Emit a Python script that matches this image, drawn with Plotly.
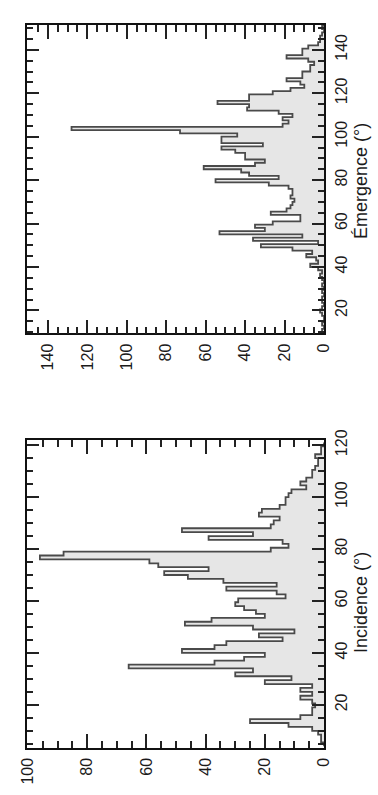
import plotly.graph_objects as go

# ---------------- data (histograms, 1.5° bins) ----------------
bin_width = 1.5

# Émergence (°) histogram, first bin starts at 10°
eme_start = 10.0
eme_counts = [1, 0, 1, 0, 0, 1, 2, 1, 0, 1,
              1, 0, 1, 0, 1, 0, 1, 2, 1, 3,
              7, 3, 4, 9, 6, 16, 32, 3, 36, 11,
              53, 30, 35, 26, 12, 12, 27, 19, 17, 16,
              15, 17, 16, 16, 18, 28, 55, 23, 38, 42,
              61, 35, 30, 40, 40, 45, 52, 31, 52, 52,
              44, 73, 128, 21, 18, 21, 16, 23, 39, 38,
              54, 38, 38, 26, 17, 10, 12, 19, 11, 11,
              7, 7, 5, 8, 19, 11, 11, 8, 3, 2,
              2, 1, 0, 1]

# Incidence (°) histogram, first bin starts at 4°
inc_start = 4.0
inc_counts = [0, 1, 1, 2, 4, 12, 25, 8, 4, 4,
              3, 4, 8, 4, 8, 4, 20, 11, 30, 24,
              66, 37, 27, 20, 48, 37, 33, 14, 22, 10,
              24, 47, 38, 20, 23, 27, 30, 29, 13, 16,
              33, 16, 34, 46, 54, 39, 56, 59, 96, 88,
              18, 12, 14, 39, 24, 48, 18, 17, 15, 22,
              21, 15, 13, 13, 12, 11, 6, 8, 6, 4,
              4, 3, 2, 2, 3, 1, 1, 0]

eme_title = "Émergence (°)"
inc_title = "Incidence (°)"

eme_count_ticks = [0, 20, 40, 60, 80, 100, 120, 140]
eme_angle_ticks = [20, 40, 60, 80, 100, 120, 140]
inc_count_ticks = [0, 20, 40, 60, 80, 100]
inc_angle_ticks = [20, 40, 60, 80, 100, 120]

# ---------------- helpers ----------------
def step_outline(start, width, counts):
    xs = [0]
    ys = [start]
    for i, c in enumerate(counts):
        xs.append(c)
        ys.append(start + i * width)
    xs.append(0)
    ys.append(start + len(counts) * width)
    return xs, ys

W, H = 378, 795
FONT = "Liberation Sans, Arial, Helvetica, sans-serif"
LINE_COL = "#4a4a4a"
FILL_COL = "#e6e6e6"
TXT = "#1a1a1a"

fig = go.Figure()

ex, ey = step_outline(eme_start, bin_width, eme_counts)
fig.add_trace(go.Scatter(x=ex, y=ey, mode="lines", line=dict(shape="vh", color=LINE_COL, width=1.8),
                         fill="tozerox", fillcolor=FILL_COL, xaxis="x", yaxis="y", showlegend=False,
                         hoverinfo="skip"))
ix, iy = step_outline(inc_start, bin_width, inc_counts)
fig.add_trace(go.Scatter(x=ix, y=iy, mode="lines", line=dict(shape="vh", color=LINE_COL, width=1.8),
                         fill="tozerox", fillcolor=FILL_COL, xaxis="x2", yaxis="y2", showlegend=False,
                         hoverinfo="skip"))

def count_axis(rng, ticks, anchor):
    return dict(domain=[20 / W, 330 / W], anchor=anchor, range=rng, tickmode="array", tickvals=ticks,
                ticks="inside", ticklen=14, tickwidth=2, tickcolor="#222",
                minor=dict(ticks="inside", dtick=5, tick0=0, ticklen=7, tickwidth=1.6, tickcolor="#222"),
                showline=True, linecolor="#111", linewidth=1.6, mirror="ticks",
                tickangle=-90, tickfont=dict(family=FONT, size=16, color=TXT),
                ticklabelstandoff=2, showgrid=False, zeroline=False, fixedrange=True)

def angle_axis(rng, ticks, anchor, dom):
    return dict(domain=dom, anchor=anchor, side="right", range=rng, tickmode="array", tickvals=ticks,
                ticks="inside", ticklen=12, tickwidth=2, tickcolor="#222",
                minor=dict(ticks="inside", dtick=5, tick0=0, ticklen=6, tickwidth=1.6, tickcolor="#222"),
                showline=True, linecolor="#111", linewidth=1.6, mirror="ticks",
                tickangle=-90, tickfont=dict(family=FONT, size=16, color=TXT),
                ticklabelstandoff=2, showgrid=False, zeroline=False, fixedrange=True)

fig.update_layout(
    width=W, height=H, margin=dict(l=0, r=0, t=0, b=0),
    paper_bgcolor="white", plot_bgcolor="white",
    xaxis=count_axis([150.5, 0], eme_count_ticks, "y"),
    yaxis=angle_axis([9.4, 151.5], eme_angle_ticks, "x", [1 - 327 / H, 1 - 14 / H]),
    xaxis2=count_axis([100.3, 0], inc_count_ticks, "y2"),
    yaxis2=angle_axis([3.5, 122], inc_angle_ticks, "x2", [1 - 747 / H, 1 - 435 / H]),
    annotations=[
        dict(text=eme_title, x=368 / W, y=1 - 172 / H, xref="paper", yref="paper", textangle=-90,
             showarrow=False, xanchor="center", yanchor="middle",
             font=dict(family=FONT, size=18, color=TXT)),
        dict(text=inc_title, x=368 / W, y=1 - 600 / H, xref="paper", yref="paper", textangle=-90,
             showarrow=False, xanchor="center", yanchor="middle",
             font=dict(family=FONT, size=18, color=TXT)),
    ],
)

fig.write_html("out.html", config={"displayModeBar": False},
               post_script="document.body.style.margin='0';document.body.style.overflow='hidden';")
